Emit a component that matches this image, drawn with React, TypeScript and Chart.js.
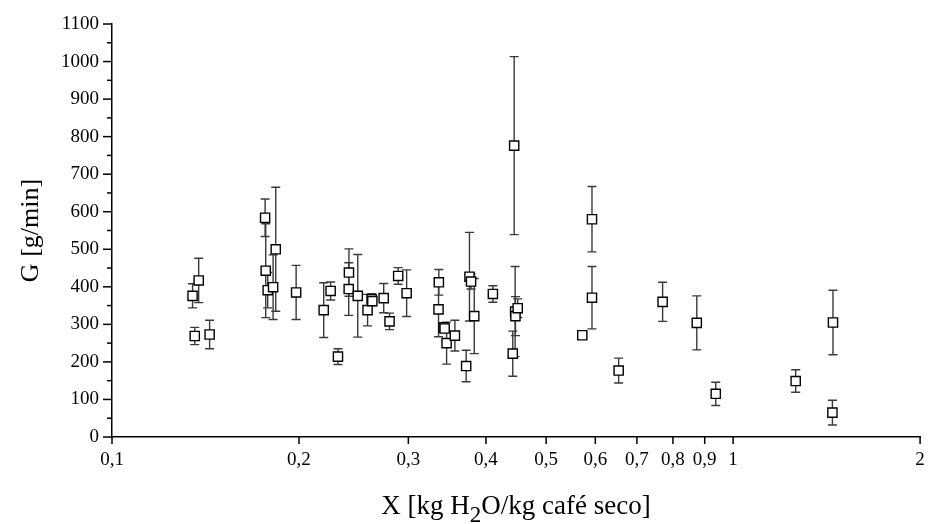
import React, { useEffect, useRef } from "react";
import { Chart, registerables } from "chart.js";

Chart.register(...registerables);

// Moisture content X [kg H2O / kg dry coffee]
const X_VALUES = [
  0.1348, 0.1379, 0.1359, 0.1436, 0.1764, 0.1768, 0.1781, 0.1817, 0.1835, 0.1979,
  0.2192, 0.2249, 0.2311, 0.2407, 0.2405, 0.2487, 0.2579, 0.2618, 0.2625, 0.2738,
  0.2798, 0.2889, 0.2981, 0.3359, 0.3355, 0.342, 0.3432, 0.3457, 0.3565, 0.3717,
  0.3763, 0.3785, 0.383, 0.4104, 0.4441, 0.4418, 0.4457, 0.4462, 0.45, 0.5717,
  0.5926, 0.5926, 0.6542, 0.77, 0.874, 0.9376, 1.261, 1.448, 1.445,
];

// Mass flow G [g/min]
const G_VALUES = [
  376, 417, 269, 273, 584, 443, 391, 399, 500, 385,
  338, 389, 214, 438, 394, 376, 338, 367, 362, 370,
  308, 429, 383, 412, 340, 292, 289, 250, 270, 189,
  427, 414, 322, 381, 776, 222, 334, 322, 343, 271,
  580, 371, 177, 360, 304, 115, 149, 305, 65,
];

// Standard deviation of G [g/min]
const G_ERRORS = [
  32, 59, 23, 38, 50, 125, 47, 86, 165, 72,
  73, 24, 21, 63, 70, 110, 42, 15, 12, 39,
  22, 22, 62, 34, 73, 12, 10, 56, 41, 42,
  118, 20, 100, 22, 237, 60, 120, 52, 25, 6,
  87, 83, 33, 52, 72, 31, 30, 86, 33,
];

const X_TICKS = [0.1, 0.2, 0.3, 0.4, 0.5, 0.6, 0.7, 0.8, 0.9, 1, 2];
const Y_MAX = 1100;
const Y_STEP = 100;

const SERIF = "'Liberation Serif', 'Times New Roman', Times, serif";

const errorBarsPlugin = {
  id: "errorBars",
  beforeDatasetsDraw(chart: any) {
    const { ctx } = chart;
    const xs = chart.scales.x;
    const ys = chart.scales.y;
    const cap = 4.5;
    ctx.save();
    ctx.strokeStyle = "#3a3a3a";
    ctx.lineWidth = 1.4;
    chart.data.datasets.forEach((ds: any) => {
      (ds.data as any[]).forEach((p, i) => {
        const e = ds.errors[i];
        const px = xs.getPixelForValue(p.x);
        const top = ys.getPixelForValue(p.y + e);
        const bot = ys.getPixelForValue(p.y - e);
        ctx.beginPath();
        ctx.moveTo(px, top);
        ctx.lineTo(px, bot);
        ctx.moveTo(px - cap, top);
        ctx.lineTo(px + cap, top);
        ctx.moveTo(px - cap, bot);
        ctx.lineTo(px + cap, bot);
        ctx.stroke();
      });
    });
    ctx.restore();
  },
};

const axisDecorPlugin = {
  id: "axisDecor",
  afterDraw(chart: any) {
    const { ctx, chartArea } = chart;
    const xs = chart.scales.x;
    const ys = chart.scales.y;
    ctx.save();
    ctx.strokeStyle = "#000";
    ctx.lineWidth = 1.5;
    // y ticks: major every 100, minor every 50
    for (let v = 0; v <= Y_MAX; v += Y_STEP / 2) {
      const py = ys.getPixelForValue(v);
      const len = v % Y_STEP === 0 ? 9 : 5;
      ctx.beginPath();
      ctx.moveTo(chartArea.left - len, py);
      ctx.lineTo(chartArea.left, py);
      ctx.stroke();
    }
    // x ticks
    X_TICKS.forEach((v) => {
      const px = xs.getPixelForValue(v);
      ctx.beginPath();
      ctx.moveTo(px, chartArea.bottom);
      ctx.lineTo(px, chartArea.bottom + 7);
      ctx.stroke();
    });

    // axis titles
    ctx.fillStyle = "#000";
    ctx.textBaseline = "middle";
    ctx.textAlign = "center";
    ctx.font = `26px ${SERIF}`;
    ctx.save();
    ctx.translate(31, (chartArea.top + chartArea.bottom) / 2);
    ctx.rotate(-Math.PI / 2);
    ctx.fillText("G [g/min]", 0, 0);
    ctx.restore();

    const parts = [
      { t: "X [kg H", size: 27, dy: 0 },
      { t: "2", size: 23, dy: 8 },
      { t: "O/kg café seco]", size: 27, dy: 0 },
    ];
    ctx.textBaseline = "alphabetic";
    ctx.textAlign = "left";
    let total = 0;
    parts.forEach((p) => {
      ctx.font = `${p.size}px ${SERIF}`;
      total += ctx.measureText(p.t).width;
    });
    let x = (chartArea.left + chartArea.right) / 2 - total / 2;
    const base = 514;
    parts.forEach((p) => {
      ctx.font = `${p.size}px ${SERIF}`;
      ctx.fillText(p.t, x, base + p.dy);
      x += ctx.measureText(p.t).width;
    });
    ctx.restore();
  },
};

export default function App() {
  const canvasRef = useRef<HTMLCanvasElement | null>(null);

  useEffect(() => {
    if (!canvasRef.current) return;
    const points = X_VALUES.map((x, i) => ({ x, y: G_VALUES[i] }));
    const chart = new Chart(canvasRef.current, {
      type: "scatter",
      data: {
        datasets: [
          {
            label: "G",
            data: points,
            errors: G_ERRORS,
            pointStyle: "rect",
            pointRadius: 6.5,
            pointBorderWidth: 1.4,
            pointBorderColor: "#000",
            pointBackgroundColor: "#fff",
          } as any,
        ],
      },
      options: {
        animation: false,
        responsive: true,
        maintainAspectRatio: false,
        layout: { padding: { top: 24, right: 7, left: 0, bottom: 0 } },
        plugins: {
          legend: { display: false },
          tooltip: { enabled: false },
        },
        scales: {
          x: {
            type: "logarithmic",
            min: 0.1,
            max: 2,
            grid: { display: false, drawTicks: false },
            border: { display: true, color: "#000", width: 1.5 },
            afterBuildTicks: (scale: any) => {
              scale.ticks = X_TICKS.map((v) => ({ value: v }));
            },
            afterFit: (scale: any) => {
              scale.height = 87;
              scale.paddingLeft = 0;
              scale.paddingRight = 0;
            },
            ticks: {
              autoSkip: false,
              maxRotation: 0,
              padding: 12,
              color: "#000",
              font: { family: SERIF, size: 19 },
              callback: (v: any) => String(v).replace(".", ","),
            },
          },
          y: {
            min: 0,
            max: Y_MAX,
            grid: { display: false, drawTicks: false },
            border: { display: true, color: "#000", width: 1.5 },
            afterFit: (scale: any) => {
              scale.width = 112;
              scale.paddingTop = 0;
              scale.paddingBottom = 0;
            },
            ticks: {
              stepSize: Y_STEP,
              padding: 13,
              color: "#000",
              font: { family: SERIF, size: 19 },
              callback: (v: any) => String(v),
            },
          },
        },
      },
      plugins: [errorBarsPlugin, axisDecorPlugin],
    });
    return () => chart.destroy();
  }, []);

  return (
    <div
      style={{
        position: "fixed",
        left: 0,
        top: 0,
        width: 928,
        height: 524,
        background: "#fff",
      }}
    >
      <canvas ref={canvasRef} />
    </div>
  );
}
